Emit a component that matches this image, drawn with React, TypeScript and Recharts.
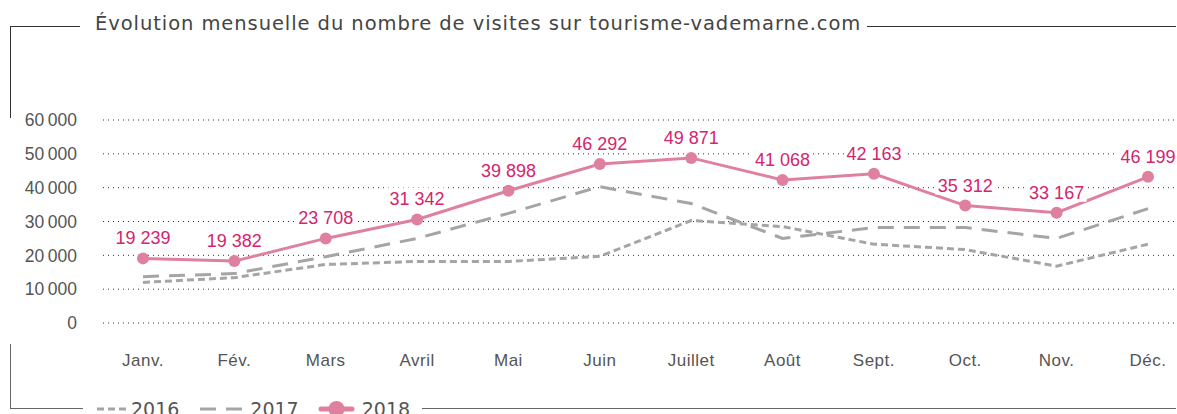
import React from 'react';
import { LineChart, Line, XAxis, YAxis, CartesianGrid, LabelList } from 'recharts';

const months = ['Janv.', 'Fév.', 'Mars', 'Avril', 'Mai', 'Juin', 'Juillet', 'Août', 'Sept.', 'Oct.', 'Nov.', 'Déc.'];
const visits2016 = [12000, 13400, 17300, 18200, 18200, 19700, 30300, 28500, 23300, 21700, 16800, 23300];
const visits2017 = [13700, 14600, 19600, 25000, 32400, 40300, 35300, 25000, 28200, 28200, 25000, 33800];
const visits2018 = [19100, 18300, 25000, 30600, 39100, 47000, 48800, 42300, 44100, 34700, 32600, 43200];
const labels2018 = ['19 239', '19 382', '23 708', '31 342', '39 898', '46 292', '49 871', '41 068', '42 163', '35 312', '33 167', '46 199'];
const yTicks = [0, 10000, 20000, 30000, 40000, 50000, 60000];

const PINK = '#e0809f';
const PINK_TEXT = '#d4256e';
const GREY = '#a5a5a8';
const TITLE_FONT = 'DejaVu Sans, sans-serif';
const AXIS_FONT = 'Liberation Sans, Arial, sans-serif';

const data = months.map((m, i) => ({
  month: m,
  v2016: visits2016[i],
  v2017: visits2017[i],
  v2018: visits2018[i],
  label: labels2018[i],
}));

const fmtTick = (v: number) => (v === 0 ? '0' : `${Math.round(v / 1000)}\u202F000`);

// label with a white box behind it, like the original
const PointLabel = (props: any) => {
  const { x, y, value } = props;
  const w = value.length * 10;
  return (
    <g>
      <rect x={x - w / 2} y={y - 32} width={w} height={21} fill="#fff" />
      <text x={x} y={y - 14} textAnchor="middle" fill={PINK_TEXT} fontSize={18} fontFamily={AXIS_FONT}>
        {value}
      </text>
    </g>
  );
};

const LegendBox = () => (
  <div
    style={{
      position: 'absolute',
      left: 83,
      top: 397,
      display: 'flex',
      alignItems: 'center',
      background: '#fff',
      padding: '0 12px 0 14px',
      fontFamily: TITLE_FONT,
      fontSize: 19,
      lineHeight: '24px',
      color: '#555',
    }}
  >
    <svg width={29} height={10}><line x1={0} y1={5} x2={29} y2={5} stroke={GREY} strokeWidth={3} strokeDasharray="7 4" /></svg>
    <span style={{ margin: '0 21px 0 5px' }}>2016</span>
    <svg width={43} height={10}><line x1={0} y1={5} x2={43} y2={5} stroke={GREY} strokeWidth={3} strokeDasharray="16 10" /></svg>
    <span style={{ margin: '0 19px 0 7px' }}>2017</span>
    <svg width={37} height={16}>
      <line x1={3} y1={8} x2={34} y2={8} stroke={PINK} strokeWidth={5} strokeLinecap="round" />
      <circle cx={18.5} cy={8} r={8} fill={PINK} />
    </svg>
    <span style={{ marginLeft: 7 }}>2018</span>
  </div>
);

export default function App() {
  return (
    <div style={{ position: 'absolute', left: 0, top: 0, width: 1177, height: 414, overflow: 'hidden', background: '#fff' }}>
      {/* frame */}
      <div style={{ position: 'absolute', left: 10, top: 26, width: 1166, height: 381, borderTop: '1px solid #333', borderBottom: '1px solid #666' }} />
      <div style={{ position: 'absolute', left: 10, top: 26, width: 1, height: 92, background: '#333' }} />
      <div style={{ position: 'absolute', left: 10, top: 344, width: 1, height: 64, background: '#666' }} />
      <div
        style={{
          position: 'absolute',
          left: 80,
          top: 11,
          padding: '0 6px 0 15px',
          background: '#fff',
          fontFamily: TITLE_FONT,
          fontSize: 19.5,
          letterSpacing: 0.93,
          color: '#444',
          lineHeight: '26px',
          whiteSpace: 'nowrap',
        }}
      >
        Évolution mensuelle du nombre de visites sur tourisme-vademarne.com
      </div>
      <div style={{ position: 'absolute', left: 0, top: 0 }}>
        <LineChart width={1177} height={414} data={data} margin={{ top: 120, right: 2, bottom: 61, left: 0 }}>
          <CartesianGrid vertical={false} stroke="#333" strokeDasharray="1 4" />
          <XAxis
            dataKey="month"
            axisLine={false}
            tickLine={false}
            padding={{ left: 40, right: 27 }}
            height={30}
            tickMargin={25}
            tick={{ fontSize: 17, fill: '#555', fontFamily: AXIS_FONT, letterSpacing: 0.5 }}
          />
          <YAxis
            domain={[0, 60000]}
            ticks={yTicks}
            width={103}
            axisLine={false}
            tickLine={false}
            tickMargin={20}
            tickFormatter={fmtTick}
            tick={{ fontSize: 17.5, fill: '#555', fontFamily: AXIS_FONT }}
          />
          <Line dataKey="v2016" stroke={GREY} strokeWidth={3} strokeDasharray="7 4" dot={false} isAnimationActive={false} />
          <Line dataKey="v2017" stroke={GREY} strokeWidth={3} strokeDasharray="16 10" dot={false} isAnimationActive={false} />
          <Line dataKey="v2018" stroke={PINK} strokeWidth={3} dot={{ r: 6, fill: PINK, stroke: PINK, strokeWidth: 0 }} isAnimationActive={false}>
            <LabelList dataKey="label" content={PointLabel} />
          </Line>
        </LineChart>
      </div>
      <LegendBox />
    </div>
  );
}
